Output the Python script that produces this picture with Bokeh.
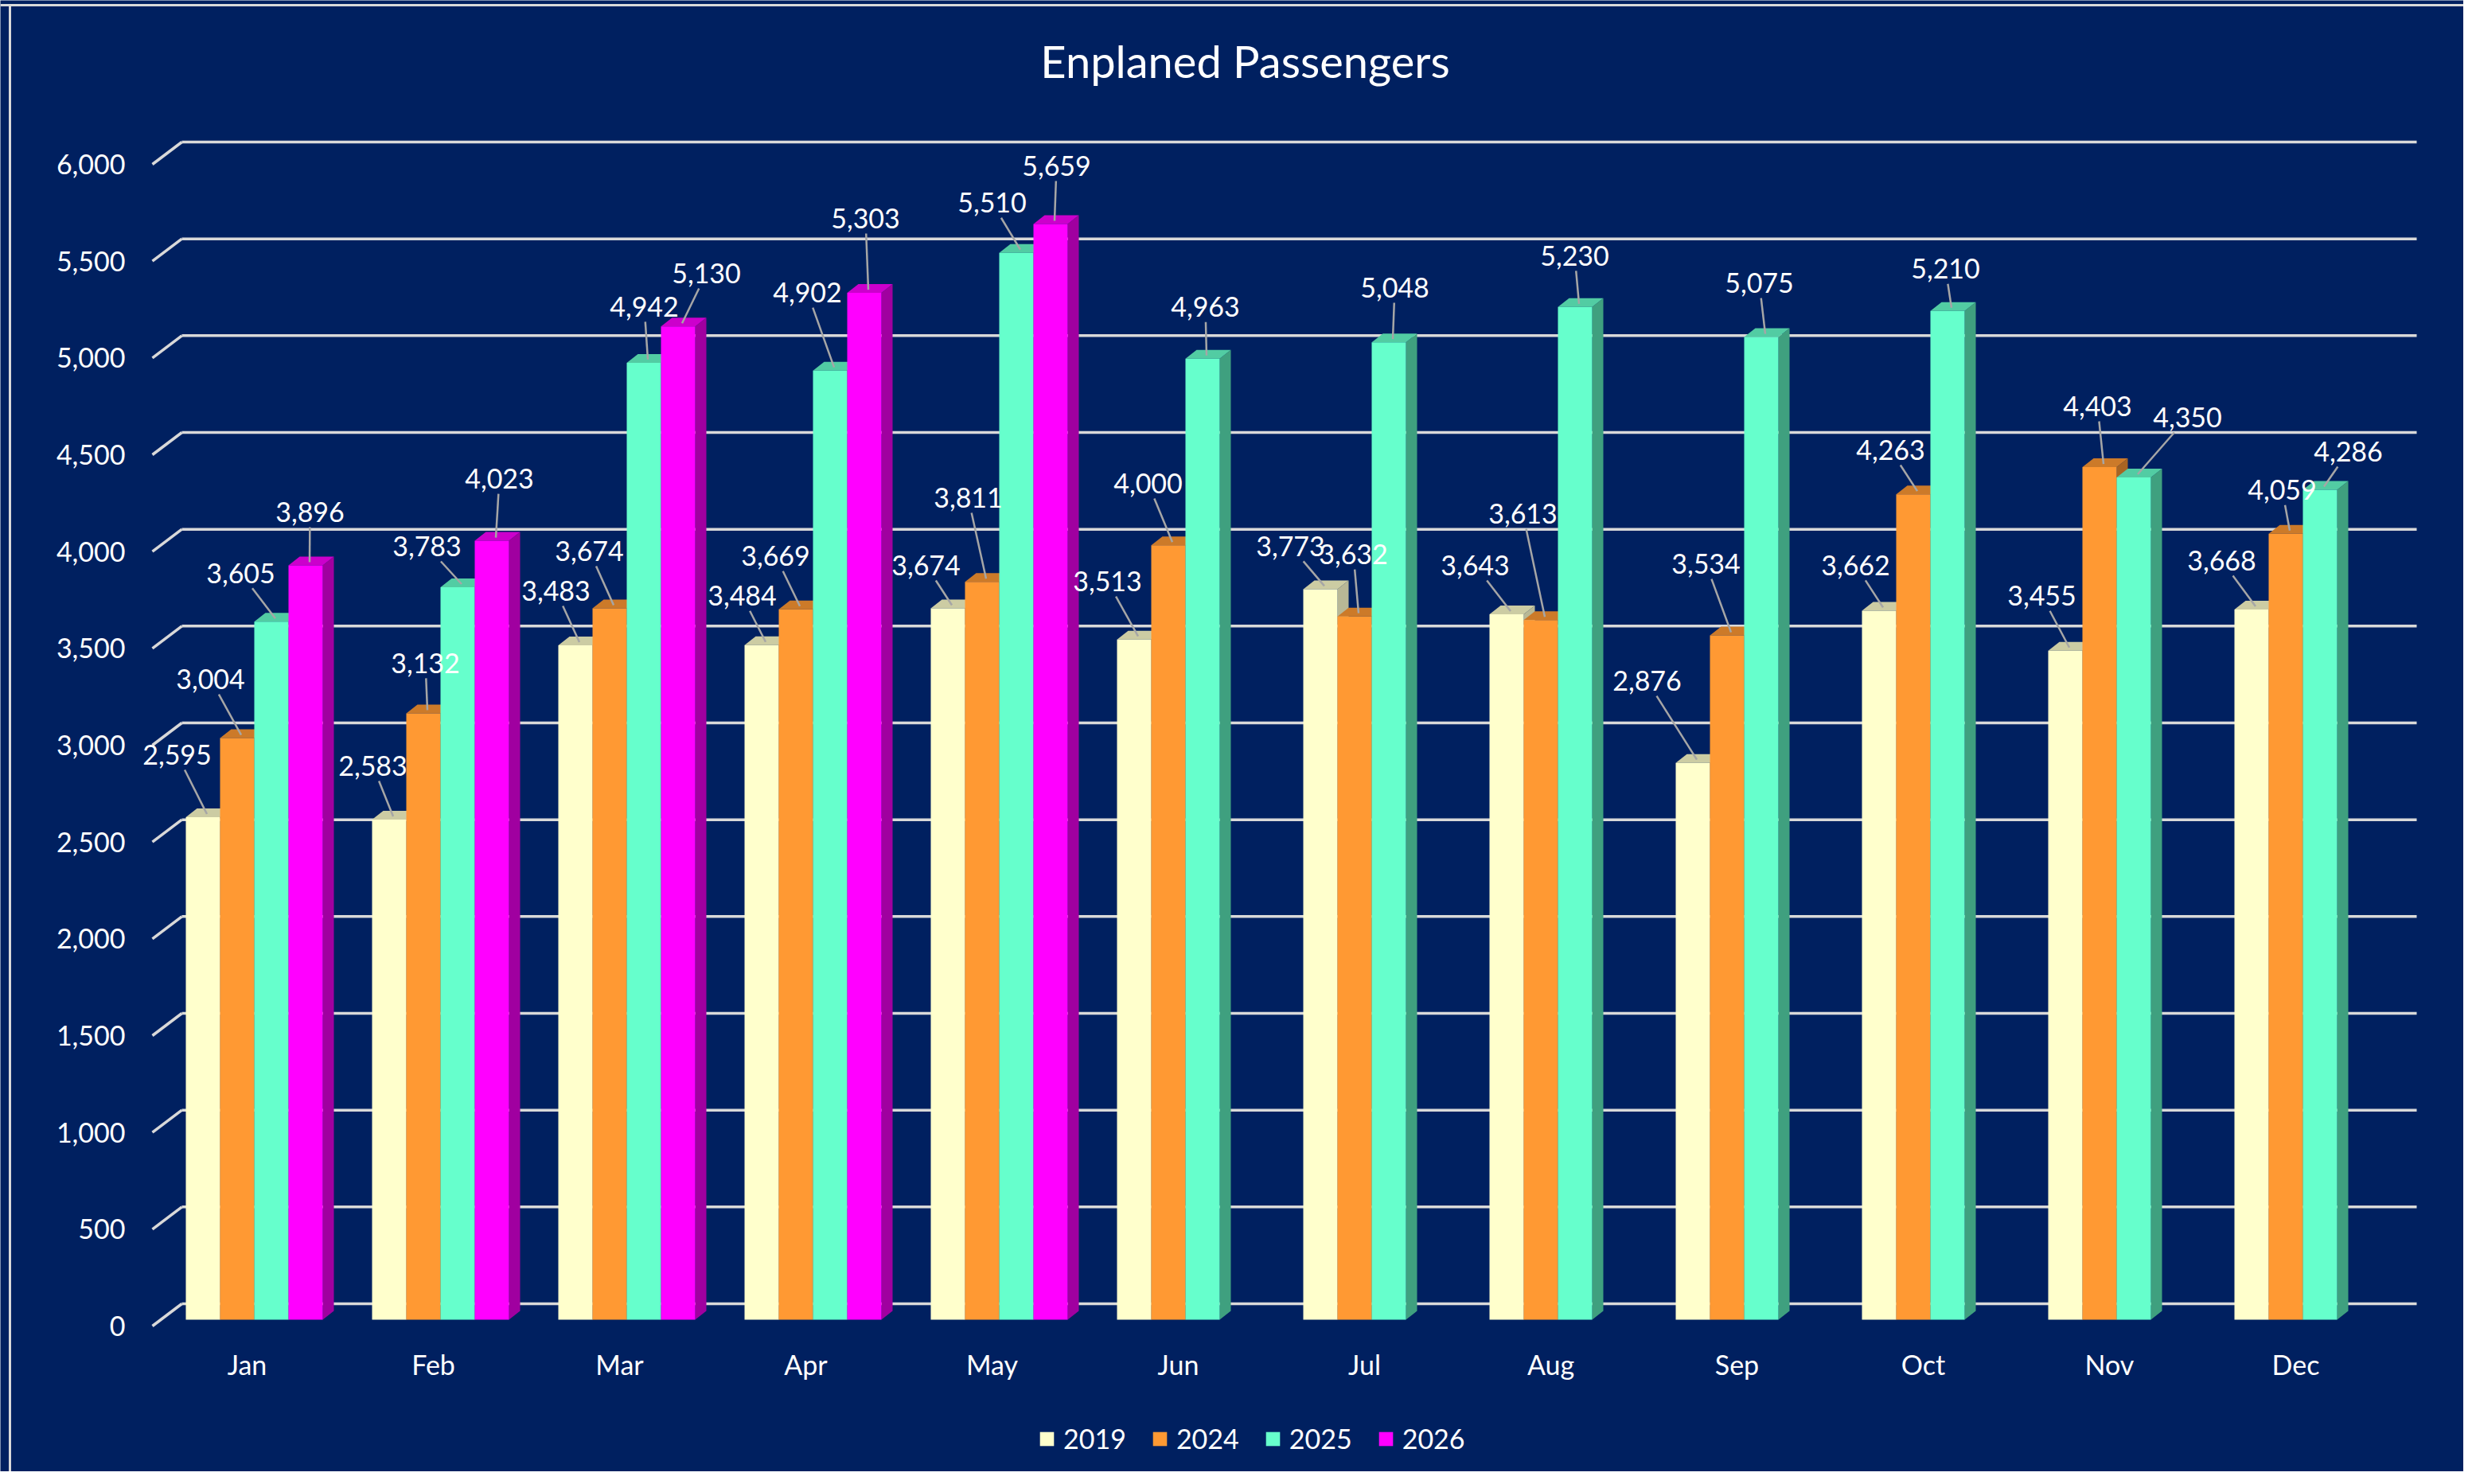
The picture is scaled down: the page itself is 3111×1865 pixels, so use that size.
import math
from bokeh.plotting import figure
from bokeh.models import Range1d, Legend, LegendItem
from bokeh.embed import file_html
from bokeh.resources import INLINE
from bokeh.core.properties import value

# ------------------------------------------------------------------ data
months = ["Jan", "Feb", "Mar", "Apr", "May", "Jun", "Jul", "Aug", "Sep", "Oct", "Nov", "Dec"]
years = ["2019", "2024", "2025", "2026"]
pax_2019 = [2595, 2583, 3483, 3484, 3674, 3513, 3773, 3643, 2876, 3662, 3455, 3668]
pax_2024 = [3004, 3132, 3674, 3669, 3811, 4000, 3632, 3613, 3534, 4263, 4403, 4059]
pax_2025 = [3605, 3783, 4942, 4902, 5510, 4963, 5048, 5230, 5075, 5210, 4350, 4286]
pax_2026 = [3896, 4023, 5130, 5303, 5659]
y_ticks = [0, 500, 1000, 1500, 2000, 2500, 3000, 3500, 4000, 4500, 5000, 5500, 6000]
y_tick_labels = ["{:,}".format(t) for t in y_ticks]
chart_title = "Enplaned Passengers"

# ------------------------------------------------------------------ label placement (px offsets from bar top, x right / y down)
lbl_dx_2019 = [-32.5, -20.5, -24.5, -24.5, -27.5, -33.5, -37.5, -39.5, -57.5, -29.5, -29.5, -37.5]
lbl_dy_2019 = [-78.5, -67.5, -68.5, -62, -54, -73, -54, -61.5, -103, -57, -69, -61.5]
lbl_dx_2024 = [-33.5, 2.5, -25.5, -25.5, -17.5, -25.5, -1.5, -22.5, -26.5, -28.5, -2.5, -4.5]
lbl_dy_2024 = [-74, -63, -72, -67, -105.7, -77.7, -78, -133.8, -90, -55.7, -76.6, -55]
lbl_dx_2025 = [-38.5, -38.5, 0.5, -28.5, -30.5, 3.5, 7.5, -0.5, -2.5, -2.5, 67.5, 35.5]
lbl_dy_2025 = [-61, -51.5, -70.5, -98, -63, -65, -68.7, -64.4, -68, -53, -75.5, -48]
lbl_dx_2026 = [5.5, 9.5, 35.5, 1.5, 7.5]
lbl_dy_2026 = [-67, -78, -66.7, -93.6, -73]

# ------------------------------------------------------------------ styles
BG = "#002060"
GRID = "#D9D9D9"
LEADER = "#A6A6A6"
TXT = "#FFFFFF"
FONT = "Lato"
front_colors = ["#FFFFCC", "#FF9933", "#66FFCC", "#FF00FF"]
top_colors = ["#CCCCA3", "#CC7A29", "#52CCA3", "#CC00CC"]
side_colors = ["#B8B896", "#A86422", "#3FA07F", "#A000A0"]

# ------------------------------------------------------------------ geometry (px of the picture)
W, H = 3095, 1849
FIG_L, FIG_T = 0, 0
PX_M = 234.0               # px per month slot
PX_V = 1460.0 / 6000.0     # px per passenger
X_JAN = 310.0              # centre of Jan slot
Y_ZERO = 1638.0            # back wall zero line
BAR_LIFT = 20.0            # bar front plane below back wall (px)
WALL_DX, WALL_DY = 37.0, 28.0
BAR_DX, BAR_DY = 14.0, 11.0
GROUP_L = -77.0
BAR_W = 43.0


def xd(X):
    return (X - X_JAN) / PX_M


def yd(Y):
    return (Y_ZERO - Y) / PX_V


x_start, x_end = xd(FIG_L), xd(FIG_L + W)
y_start, y_end = yd(FIG_T + H), yd(FIG_T)

p = figure(width=W, height=H, x_range=Range1d(x_start, x_end), y_range=Range1d(y_start, y_end),
           output_backend="svg", toolbar_location=None, min_border=0,
           x_axis_location=None, y_axis_location=None,
           background_fill_color=BG, border_fill_color=BG)
p.outline_line_color = None
p.grid.visible = False
lift = BAR_LIFT / PX_V
p.extra_y_ranges = {"bars": Range1d(y_start + lift, y_end + lift)}

# border lines (top / left)
p.segment(x0=[x_start], y0=[yd(6)], x1=[x_end], y1=[yd(6)], line_color=GRID, line_width=3)
p.segment(x0=[xd(12)], y0=[y_start], x1=[xd(12)], y1=[yd(6)], line_color=GRID, line_width=3)

# back-wall gridlines and left diagonals
wall_x0 = xd(228)
wall_x1 = xd(3036)
front_x = xd(228 - WALL_DX)
dyw = WALL_DY / PX_V
n_t = len(y_ticks)
p.segment(x0=[wall_x0] * n_t, y0=y_ticks, x1=[wall_x1] * n_t, y1=y_ticks,
          line_color=GRID, line_width=3.5)
p.segment(x0=[front_x] * n_t, y0=[t - dyw for t in y_ticks],
          x1=[wall_x0] * n_t, y1=y_ticks, line_color=GRID, line_width=3.5)

# y tick labels
p.text(x=[xd(157)] * n_t, y=[t - dyw for t in y_ticks], text=y_tick_labels,
       text_font=value(FONT), text_font_size="34px", text_color=TXT,
       text_align="right", text_baseline="middle")

# month labels
p.text(x=list(range(len(months))), y=[yd(1714)] * len(months), text=months,
       text_font=value(FONT), text_font_size="34px", text_color=TXT,
       text_align="center", text_baseline="middle")

# title
p.text(x=[xd(1564)], y=[yd(76)], text=[chart_title],
       text_font=value(FONT), text_font_size="56px", text_color=TXT,
       text_align="center", text_baseline="middle")

# bars
series = [pax_2019, pax_2024, pax_2025, pax_2026]
lbl_dx = [lbl_dx_2019, lbl_dx_2024, lbl_dx_2025, lbl_dx_2026]
lbl_dy = [lbl_dy_2019, lbl_dy_2024, lbl_dy_2025, lbl_dy_2026]
bdx = BAR_DX / PX_M
bdy = BAR_DY / PX_V
front_renderers = []
lab_x, lab_y, lab_t = [], [], []
lead_x0, lead_y0, lead_x1, lead_y1 = [], [], [], []
for s, vals in enumerate(series):
    n = len(vals)
    x0 = [m + (GROUP_L + s * BAR_W) / PX_M for m in range(n)]
    x1 = [a + BAR_W / PX_M for a in x0]
    side_xs = [[b, b, b + bdx, b + bdx] for b in x1]
    side_ys = [[0, v, v + bdy, bdy] for v in vals]
    top_xs = [[a, b, b + bdx, a + bdx] for a, b in zip(x0, x1)]
    top_ys = [[v, v, v + bdy, v + bdy] for v in vals]
    p.patches(xs=side_xs, ys=side_ys, fill_color=side_colors[s], line_color=None, y_range_name="bars")
    p.patches(xs=top_xs, ys=top_ys, fill_color=top_colors[s], line_color=None, y_range_name="bars")
    r = p.quad(left=x0, right=x1, bottom=[0] * n, top=vals, fill_color=front_colors[s],
               line_color=None, y_range_name="bars")
    front_renderers.append(r)
    for m, v in enumerate(vals):
        cx = (x0[m] + x1[m]) / 2.0
        dx, dy = lbl_dx[s][m], lbl_dy[s][m]
        lab_x.append(cx + dx / PX_M)
        lab_y.append(v - dy / PX_V)
        lab_t.append("{:,}".format(v))
        # leader line (px space relative to bar top centre)
        ax, ay = 5.0, -4.0
        ddx, ddy = ax - dx, ay - dy
        hw, hh = 46.0, 19.0
        tx = hw / abs(ddx) if abs(ddx) > 1e-6 else 1e9
        ty = hh / abs(ddy) if abs(ddy) > 1e-6 else 1e9
        t = min(tx, ty)
        if t < 1:
            sx, sy = dx + t * ddx, dy + t * ddy
            if math.hypot(ax - sx, ay - sy) > 8:
                lead_x0.append(cx + sx / PX_M)
                lead_y0.append(v - sy / PX_V)
                lead_x1.append(cx + ax / PX_M)
                lead_y1.append(v - ay / PX_V)

p.segment(x0=lead_x0, y0=lead_y0, x1=lead_x1, y1=lead_y1, line_color=LEADER, line_width=2.5,
          y_range_name="bars")
p.text(x=lab_x, y=lab_y, text=lab_t, text_font=value(FONT), text_font_size="34px",
       text_color=TXT, text_align="center", text_baseline="middle", y_range_name="bars")

legend = Legend(items=[LegendItem(label=yr, renderers=[r]) for yr, r in zip(years, front_renderers)],
                orientation="horizontal", location=(1304 - FIG_L, (FIG_T + H) - 1828),
                glyph_width=22, glyph_height=22, label_standoff=10, spacing=31,
                padding=0, margin=0, border_line_color=None, background_fill_alpha=0,
                label_text_font=FONT, label_text_font_size="34px", label_text_color=TXT,
                label_height=34)
p.add_layout(legend)

open("out.html", "w").write(file_html(p, INLINE))
